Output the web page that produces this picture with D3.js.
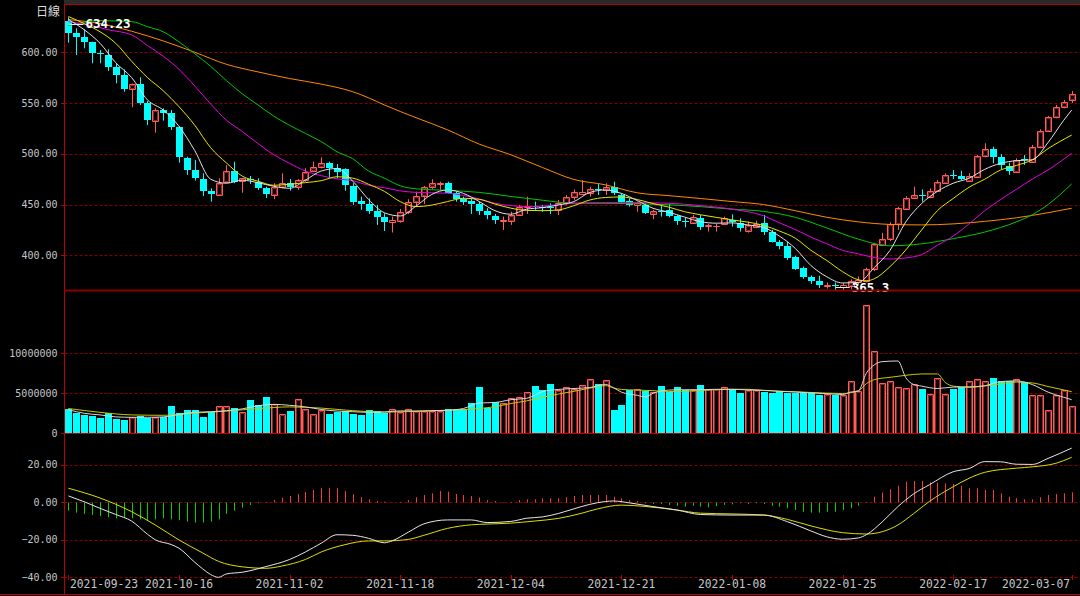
<!DOCTYPE html>
<html><head><meta charset="utf-8">
<script src="https://cdn.jsdelivr.net/npm/d3@7"></script>
<style>html,body{margin:0;padding:0;background:#000;}svg{display:block;}</style>
</head><body>
<svg id="c" width="1080" height="596"></svg>
<script>
// ---------------- DATA ----------------
const open = [630.9,618.5,614.6,609.6,599.4,597.1,585.0,577.5,563.4,568.6,
549.6,532.2,543.1,539.8,526.6,495.5,484.0,475.2,463.7,459.5,
472.5,483.0,472.9,475.5,472.5,466.0,459.5,467.6,471.0,467.6,
474.2,483.0,486.6,490.6,485.7,484.7,468.6,453.6,450.3,444.1,
437.5,432.6,434.2,443.0,452.3,458.5,467.0,470.0,471.0,461.1,
455.2,453.9,450.7,444.1,439.2,434.0,434.0,439.8,447.9,448.5,
447.2,447.6,444.8,451.2,457.2,460.4,461.1,465.0,464.4,467.6,
459.4,453.6,449.7,449.7,440.8,444.1,444.8,438.9,434.0,432.2,
436.5,429.0,429.0,431.0,434.9,432.2,424.5,427.6,431.6,423.5,
413.6,409.4,398.0,387.5,378.3,375.3,370.1,370.8,368.8,369.8,
373.4,374.7,386.2,410.1,415.7,430.5,445.9,456.7,459.3,457.2,
463.4,471.5,479.1,478.5,473.6,477.5,497.8,504.4,496.5,488.0,
482.4,494.5,492.2,507.0,522.7,535.8,545.7,552.9];
const high = [634.23,623.4,622.4,610.2,602.0,602.7,589.0,583.0,569.0,575.2,
551.9,544.7,544.7,543.1,527.3,497.1,493.9,480.8,466.0,475.9,
488.9,492.2,475.9,478.1,475.9,467.6,471.0,480.8,475.2,475.2,
485.7,492.2,496.5,492.2,489.9,485.7,471.0,457.8,456.2,449.7,
441.4,438.2,445.7,455.2,462.7,468.3,474.9,472.5,472.5,462.7,
457.8,456.2,452.9,446.5,440.8,438.2,443.0,449.6,457.8,452.9,
449.7,451.2,454.6,459.4,465.0,474.2,467.6,471.0,471.0,472.5,
461.1,456.2,452.9,451.3,444.8,449.7,451.3,439.8,437.5,439.8,
439.8,431.0,431.0,438.2,440.4,436.5,433.3,434.2,439.8,425.2,
415.2,413.6,399.6,389.1,380.3,380.0,373.4,373.4,372.7,376.4,
379.3,387.9,412.4,422.3,432.7,447.8,458.3,467.6,464.9,466.0,
474.2,480.7,484.0,483.3,480.8,498.8,510.3,507.0,499.8,491.3,
495.5,498.8,508.6,524.1,537.1,548.0,552.9,561.8];
const low = [609.2,597.1,603.7,589.0,589.0,581.4,569.3,561.0,545.7,548.0,
528.3,520.7,532.5,523.4,491.2,479.2,473.6,458.5,452.9,459.5,
471.0,471.0,461.7,470.3,464.4,456.4,455.3,466.0,463.7,464.4,
472.5,482.4,485.7,475.9,475.9,463.7,449.7,444.8,440.8,430.0,
424.0,422.5,432.2,440.8,447.9,450.7,465.4,464.4,461.1,452.9,
449.7,440.8,439.8,435.6,431.0,425.0,430.0,438.8,440.8,444.8,
443.0,440.8,439.8,449.7,454.6,460.4,457.8,459.4,459.4,459.4,
450.7,447.9,443.0,440.8,435.6,438.2,437.5,430.0,427.6,431.0,
424.9,423.5,423.5,430.0,428.3,423.5,422.5,426.7,420.1,412.7,
406.1,395.6,385.8,377.0,371.9,367.8,367.4,365.3,366.0,366.6,
371.1,373.4,384.6,409.1,414.0,424.9,445.2,456.0,452.9,456.2,
462.7,470.9,475.2,474.2,472.5,476.8,496.5,490.6,484.8,479.2,
482.4,489.0,491.2,505.4,521.7,534.8,544.7,550.0];
const close = [618.5,614.6,609.6,599.4,597.8,585.6,577.5,563.7,568.6,549.6,
533.2,543.1,539.8,526.6,496.5,484.0,475.8,463.7,460.1,471.0,
483.0,472.5,475.9,473.9,466.0,460.1,467.6,471.0,467.6,474.2,
482.4,486.6,490.6,485.7,482.0,469.3,452.9,450.7,444.1,438.2,
433.2,434.9,443.0,452.3,458.5,467.0,471.0,471.0,461.7,455.2,
452.9,450.3,444.1,439.8,434.9,434.9,439.8,447.9,448.5,447.6,
446.3,446.6,452.0,457.2,462.7,462.0,465.0,464.0,467.6,461.1,
452.9,449.7,451.3,441.5,444.1,443.5,438.9,434.0,433.2,437.5,
428.3,429.7,429.3,436.5,432.6,426.7,430.0,430.9,423.5,413.6,
409.4,397.3,386.5,378.3,375.0,371.1,370.8,370.1,371.1,374.7,
376.0,386.2,410.8,416.4,430.5,446.9,456.7,459.0,458.7,463.7,
472.5,479.1,478.8,474.9,478.2,497.8,504.4,497.1,489.0,483.3,
493.9,493.6,507.0,522.7,535.8,546.3,551.2,558.8];
const volume = [3040000,2580000,2290000,2160000,1910000,2580000,1790000,1660000,2000000,2160000,
1870000,2080000,2000000,3410000,2500000,2910000,2910000,2080000,2700000,3370000,
3370000,3120000,2700000,4160000,3540000,4540000,3620000,2410000,2790000,4250000,
3000000,2410000,2910000,2410000,2700000,2790000,2410000,2290000,2910000,2790000,
2500000,3000000,2700000,3000000,2830000,2830000,2830000,2830000,3000000,3000000,
3000000,3750000,5750000,3200000,3870000,3750000,4370000,4500000,5120000,5870000,
5370000,6120000,5420000,5830000,5500000,6000000,6750000,6120000,6620000,2920000,
3500000,5420000,5580000,5330000,5200000,5870000,5200000,5750000,5420000,5420000,
6000000,5500000,5580000,5750000,5540000,5040000,5420000,5420000,5200000,5080000,
5250000,5080000,5080000,5000000,5000000,4750000,4900000,4750000,4750000,6580000,
5250000,16100000,10250000,6330000,6580000,5830000,5700000,6170000,5500000,4960000,
6960000,4870000,5580000,5750000,6580000,6750000,6580000,6870000,6580000,6580000,
6750000,6460000,4750000,4750000,2870000,4750000,5420000,3370000];
const macdHist = [-4.4,-5.5,-6.2,-6.8,-7.3,-8.0,-8.5,-8.2,-8.5,-9.1,
-9.8,-9.1,-8.5,-9.1,-9.4,-10.3,-10.8,-10.8,-10.3,-9.1,
-6.2,-4.4,-2.8,-1.4,-0.5,0.2,1.2,2.5,3.4,4.4,
5.5,6.6,7.5,7.6,7.5,6.0,4.4,2.7,1.6,0.7,
0.4,-0.2,0.2,1.2,2.7,3.9,4.8,6.0,5.7,4.4,
3.9,3.4,2.5,1.2,0.7,0.1,0.2,1.2,1.6,1.6,
2.1,2.1,2.1,2.7,3.4,3.9,3.9,3.9,3.9,3.0,
2.1,1.2,0.7,-0.5,-0.9,-0.9,-1.4,-1.8,-2.3,-1.8,
-2.3,-2.7,-2.0,-1.4,-1.1,-0.5,-0.9,-0.5,-0.9,-1.8,
-2.3,-3.2,-4.1,-5.0,-5.5,-5.5,-5.0,-5.0,-4.1,-3.2,
-1.8,0.2,3.0,5.2,7.0,8.8,11.0,11.4,11.4,10.7,
10.5,10.1,9.8,8.9,7.5,7.5,6.6,6.6,4.8,3.0,
2.1,1.6,1.6,2.7,3.9,4.4,4.8,5.3];

// moving-average lines: [candle index, value]
const ma5 = [[0,632],[2,622],[4,608.7],[6,589.5],[8,575],[10,553],[12,543],[14,527],[16,503],[18,475],[20,471],[22,474],[24,471.5],[26,468],[28,466],[30,474],[32,483],[34,485.5],[36,473],[38,455],[40,442],[42,438.8],[44,448.5],[46,460],[48,464.4],[50,461],[52,453],[54,444],[56,440.5],[58,445.5],[60,447],[62,449.6],[64,453],[66,462],[68,464.4],[70,461],[72,454],[74,446.4],[76,442.5],[78,437.7],[80,433.2],[82,431.7],[84,432],[86,430],[88,427.5],[90,419],[92,407],[94,390],[96,379],[98,372.9],[100,373.5],[102,388],[104,405],[106,433],[108,451],[110,463],[112,471],[114,475.9],[116,484.7],[118,490.6],[120,493.2],[122,494],[124,511],[126,533],[127,543]];
const ma10 = [[0,635],[2,628],[4,620],[6,608.6],[8,591],[10,575],[12,562],[14,546.3],[16,528],[18,506],[20,491],[22,478],[24,473],[26,469],[28,470],[30,471.6],[32,473.5],[34,477.4],[36,476],[38,470],[40,463],[42,452.9],[44,448],[46,449.5],[48,453],[50,456.2],[52,455.2],[54,450.5],[56,446.5],[58,444.3],[60,444],[62,444.7],[64,449],[66,454.5],[68,457],[70,457.5],[72,455],[74,451],[76,447.5],[78,443],[80,440],[84,435],[88,429.5],[90,424],[92,417],[94,405],[96,395],[98,384],[100,376],[101,375],[102,377],[104,389],[106,405.4],[108,425],[110,444],[112,456],[114,467],[116,475],[118,484],[120,488.5],[122,494],[124,505],[127,518.4]];
const ma20 = [[0,630],[3,626],[5,622],[8,617],[10,606.5],[12,596],[14,583],[16,566.6],[18,549],[20,533],[22,522],[24,510],[26,499],[28,490.5],[30,483],[32,478.5],[34,475.3],[36,473.5],[38,469],[40,466.5],[42,463.5],[44,462],[48,461.2],[50,459],[52,455.5],[54,451.3],[56,449],[58,448],[60,448.5],[64,451.3],[68,451.9],[72,451.9],[76,451.3],[80,449],[84,445.5],[88,439],[90,432],[92,425.5],[94,418],[96,411.5],[98,405],[100,401.5],[102,398],[104,396.5],[106,397.5],[108,400.8],[110,410],[112,419],[114,431],[116,444],[118,455],[120,465],[122,475],[124,484],[127,500.5]];
const ma30 = [[0,626],[4,630.9],[8,630],[10,625],[12,620],[14,610],[16,598.4],[18,586],[20,572],[22,559],[24,548],[26,537],[28,528],[30,520],[32,512],[34,502],[36,495],[38,483],[40,476],[42,468.5],[44,465.5],[48,464],[52,462],[56,458],[60,454.3],[64,451.3],[68,451.3],[72,450.7],[76,449.8],[80,448],[84,445.5],[88,443.3],[92,437.5],[96,427],[100,416],[104,409.5],[106,410],[108,411.4],[112,416.5],[116,423],[120,433],[122,440],[124,450],[127,470.3]];
const ma60 = [[0,632],[4,628],[8,620.5],[12,611],[16,599.8],[20,588],[24,580.5],[28,574],[32,568.5],[36,561],[38,555],[40,548],[44,535.5],[48,523.5],[52,509.5],[56,499],[60,486.5],[64,474.7],[68,469.4],[72,461.6],[76,458.8],[80,456],[84,453],[88,450],[92,444],[96,437.5],[100,433],[104,430.5],[108,430],[112,431],[116,433.5],[120,437],[124,442],[127,446.4]];
const volMa5 = [[0,2950000],[2,2500000],[4,2300000],[6,2050000],[8,2000000],[10,2000000],[12,2050000],[14,2350000],[16,2620000],[18,2700000],[20,2820000],[22,3050000],[24,3450000],[26,3620000],[28,3500000],[30,3300000],[32,2980000],[34,2780000],[36,2700000],[38,2620000],[40,2660000],[42,2800000],[44,2780000],[46,2830000],[48,2880000],[50,3100000],[52,3780000],[54,3850000],[56,4200000],[58,4370000],[60,5200000],[62,5480000],[64,5600000],[66,5720000],[68,6100000],[69,5700000],[70,5150000],[72,4750000],[73,4550000],[74,5000000],[76,5400000],[78,5450000],[80,5450000],[82,5500000],[84,5500000],[86,5420000],[88,5380000],[90,5250000],[92,5150000],[94,5050000],[96,4950000],[98,4850000],[99,5150000],[100,5300000],[101,7500000],[102,8550000],[103,8950000],[105,9040000],[106,6950000],[107,6100000],[108,5900000],[110,5600000],[112,5780000],[114,5800000],[116,5950000],[118,6460000],[120,6550000],[122,6100000],[124,5150000],[126,4500000],[127,4200000]];
const volMa10 = [[0,3100000],[4,2620000],[8,2300000],[12,2250000],[16,2520000],[20,2780000],[24,3080000],[28,3300000],[32,3150000],[36,2830000],[40,2650000],[44,2750000],[48,2880000],[52,3100000],[54,3330000],[56,3720000],[58,4050000],[60,4500000],[62,4900000],[64,5250000],[66,5650000],[68,5960000],[69,5670000],[70,5480000],[72,5400000],[74,5330000],[76,5220000],[78,5250000],[80,5350000],[82,5450000],[84,5500000],[86,5500000],[88,5350000],[92,5200000],[96,5020000],[98,4980000],[100,5300000],[101,6200000],[102,6700000],[104,7000000],[106,7250000],[108,7420000],[110,7420000],[111,6350000],[112,5900000],[114,5750000],[117,6040000],[120,6400000],[122,6300000],[124,5850000],[127,5200000]];
const dif = [[0,3.4],[2,0.3],[4,-3.2],[6,-6.5],[8,-10],[10,-17],[11,-20],[13,-22.5],[14,-24.5],[16,-32],[17,-35.5],[18,-38.5],[19,-40],[20,-38.2],[22,-37.3],[25,-34.3],[28,-30.5],[30,-26.5],[32,-21.8],[34,-17.3],[36,-17.6],[38,-19.2],[40,-21.6],[41,-20.5],[43,-16],[45,-11.5],[48,-9.4],[51,-9.4],[53,-10.8],[56,-10.2],[58,-8.5],[60,-7.8],[62,-6],[65,-2.2],[67,-0.2],[69,0.7],[71,-0.3],[74,-2.3],[77,-4.1],[80,-6.5],[84,-6.8],[88,-6.8],[91,-10.3],[94,-15.3],[96,-18.4],[98,-19.7],[100,-19],[101,-17.3],[103,-10.5],[105,-2.3],[107,4.5],[109,9.4],[112,16.3],[114,18],[116,21.7],[118,21.6],[120,20.3],[122,20.2],[124,23.4],[127,28.9]];
const dea = [[0,7.5],[4,2.3],[8,-5],[11,-12.1],[14,-20.1],[17,-27],[19,-31.5],[22,-34.4],[25,-35.2],[27,-34],[30,-30.5],[32,-26.5],[35,-22.6],[38,-20.6],[40,-20.6],[43,-19.8],[45,-17.6],[48,-13.9],[51,-12],[53,-11.6],[56,-11.1],[59,-10],[62,-8.6],[65,-5.8],[67,-3.5],[70,-1.5],[73,-2.2],[77,-4.1],[80,-5.8],[84,-6.2],[88,-6.8],[91,-9.1],[94,-12.6],[98,-16.2],[101,-16.9],[103,-15.7],[105,-12.1],[107,-6],[109,0.5],[112,8.3],[114,12.8],[116,16],[120,18.2],[122,18.9],[125,20.8],[127,24]];

const priceTicks = [600, 550, 500, 450, 400];
const volTicks = [10000000, 5000000];
const volLabels = [10000000, 5000000, 0];
const macdTicks = [20, 0, -20, -40];
const dateTickIdx = [0, 14, 28, 42, 56, 70, 84, 98, 112, 127];
const dateTickLabels = ["2021-09-23","2021-10-16","2021-11-02","2021-11-18","2021-12-04","2021-12-21","2022-01-08","2022-01-25","2022-02-17","2022-03-07"];
const titleText = "日線";
const highMark = {idx: 0, value: 634.23, text: "634.23"};
const lowMark = {idx: 97, value: 365.3, text: "365.3"};

// ---------------- LAYOUT ----------------
const W = 1080, H = 596;
const PL = 64.5, PR = 1080;
const MAIN = {top: 4.3, bottom: 290.7};
const VOL = {top: 290.7, bottom: 433.3};
const MAC = {top: 433.3, bottom: 577.3};
const RED = "#ff5c5c", RED_IN = "#8e2626", CYAN = "#00ffff", GRID = "#820000", BORDER = "#b80000";
const N = open.length;

const svg = d3.select("#c");
svg.append("rect").attr("width", W).attr("height", H).attr("fill", "#000");
svg.append("rect").attr("x", 64).attr("y", 0).attr("width", W - 64).attr("height", 4).attr("fill", "#2a2a2a");

const x = d3.scaleLinear().domain([0, N - 1]).range([68.4, 68.4 + 7.9 * (N - 1)]);
const yP = d3.scaleLinear().domain([365.3, 647]).range([MAIN.bottom, MAIN.top]);
const yV = d3.scaleLinear().domain([0, 17825000]).range([VOL.bottom, VOL.top]);
const yM = d3.scaleLinear().domain([-40, 36.8]).range([MAC.bottom, MAC.top]);
const cx = i => Math.round(x(i)) + 0.5;

const defs = svg.append("defs");
[["clipMain", MAIN], ["clipVol", VOL], ["clipMac", {top: MAC.top, bottom: MAC.bottom + 1}]].forEach(([id, p]) => {
  defs.append("clipPath").attr("id", id).append("rect")
    .attr("x", PL).attr("y", p.top).attr("width", PR - PL).attr("height", p.bottom - p.top);
});

// gridlines
function hgrid(scale, ticks) {
  svg.append("g").selectAll("line").data(ticks).join("line")
    .attr("x1", PL).attr("x2", PR)
    .attr("y1", d => Math.round(scale(d)) + 0.5).attr("y2", d => Math.round(scale(d)) + 0.5)
    .attr("stroke", GRID).attr("stroke-width", 1).attr("stroke-dasharray", "3,2");
}
hgrid(yP, priceTicks); hgrid(yV, volTicks); hgrid(yM, macdTicks);

// y labels
function ylabels(scale, ticks, fmt) {
  const g = svg.append("g");
  g.selectAll("text").data(ticks).join("text")
    .attr("x", 57.5).attr("y", d => scale(d)).attr("dy", "0.36em")
    .attr("text-anchor", "end").attr("fill", "#c6c6c6")
    .attr("font-family", "DejaVu Sans Mono, monospace").attr("font-size", 10)
    .text(fmt);
  g.selectAll("line").data(ticks).join("line")
    .attr("x1", 61).attr("x2", PL).attr("y1", d => Math.round(scale(d)) + 0.5).attr("y2", d => Math.round(scale(d)) + 0.5)
    .attr("stroke", BORDER);
}
ylabels(yP, priceTicks, d3.format(".2f"));
ylabels(yV, volLabels, d => String(d));
ylabels(yM, macdTicks, d3.format(".2f"));

// title
svg.append("text").attr("x", 48).attr("y", 12).attr("dy", "0.36em").attr("text-anchor", "middle")
  .attr("fill", "#dcdcdc").attr("font-family", "Noto Sans CJK TC, Noto Sans CJK SC, sans-serif").attr("font-size", 12)
  .text(titleText);

const candles = d3.range(N).map(i => ({i, o: open[i], h: high[i], l: low[i], c: close[i], v: volume[i], m: macdHist[i], up: close[i] >= open[i]}));

// candles
const gC = svg.append("g").attr("clip-path", "url(#clipMain)");
gC.selectAll("line.w").data(candles).join("line").attr("class", "w")
  .attr("x1", d => cx(d.i)).attr("x2", d => cx(d.i))
  .attr("y1", d => yP(d.h)).attr("y2", d => yP(d.l))
  .attr("stroke", d => d.up ? RED : CYAN).attr("stroke-width", 1);
const upC = candles.filter(d => d.up);
gC.selectAll("path.up").data(upC).join("path").attr("class", "up")
  .attr("d", d => {
    const t = Math.round(yP(d.c)) + 0.5, b = Math.round(yP(d.o)) + 0.5, l = cx(d.i) - 3;
    return `M${l},${t}H${l + 6}V${b}H${l}Z`;
  })
  .attr("fill", "#000").attr("stroke", RED).attr("stroke-width", 1);
gC.selectAll("path.upi").data(upC.filter(d => Math.round(yP(d.o)) - Math.round(yP(d.c)) >= 3)).join("path").attr("class", "upi")
  .attr("d", d => {
    const t = Math.round(yP(d.c)) + 1.5, b = Math.round(yP(d.o)) - 0.5, l = cx(d.i) - 2;
    return `M${l},${t}H${l + 4}V${b}H${l}Z`;
  })
  .attr("fill", "none").attr("stroke", RED_IN).attr("stroke-width", 1);
gC.selectAll("rect.dn").data(candles.filter(d => !d.up)).join("rect").attr("class", "dn")
  .attr("x", d => cx(d.i) - 3.5).attr("width", 7)
  .attr("y", d => Math.round(yP(d.o)))
  .attr("height", d => Math.max(1, Math.round(yP(d.c)) - Math.round(yP(d.o))))
  .attr("fill", CYAN);

// MA lines
const lineP = d3.line().x(d => x(d[0])).y(d => yP(d[1])).curve(d3.curveMonotoneX);
[[ma60, "#ff8a00"], [ma30, "#00c800"], [ma20, "#e600e6"], [ma10, "#e6e600"], [ma5, "#e2e2e2"]].forEach(([pts, col]) => {
  gC.append("path").datum(pts).attr("d", lineP).attr("fill", "none").attr("stroke", col).attr("stroke-width", 1);
});

// high / low marks
function mark(m, dyText) {
  const yy = yP(m.value) + dyText;
  const x0 = x(m.idx);
  svg.append("line").attr("x1", x0 + 1).attr("x2", x0 + 15).attr("y1", Math.round(yy) + 0.5).attr("y2", Math.round(yy) + 0.5)
    .attr("stroke", "#e8e8e8").attr("stroke-width", 1);
  svg.append("text").attr("x", x0 + 17).attr("y", yy).attr("dy", "0.36em")
    .attr("fill", "#ffffff").attr("font-family", "DejaVu Sans Mono, monospace").attr("font-weight", "bold").attr("font-size", 12.5)
    .text(m.text);
}
mark(highMark, 6.5);
mark(lowMark, -3.5);

// volume
const gV = svg.append("g").attr("clip-path", "url(#clipVol)");
const vb = Math.round(VOL.bottom);
const upV = candles.filter(d => d.up);
gV.selectAll("path.vu").data(upV).join("path").attr("class", "vu")
  .attr("d", d => {
    const t = Math.round(yV(d.v)) + 0.5, l = cx(d.i) - 3;
    return `M${l},${vb}V${t}H${l + 6}V${vb}`;
  })
  .attr("fill", "#000").attr("stroke", RED).attr("stroke-width", 1);
gV.selectAll("path.vui").data(upV).join("path").attr("class", "vui")
  .attr("d", d => {
    const t = Math.round(yV(d.v)) + 1.5, l = cx(d.i) - 2;
    return `M${l},${vb}V${t}H${l + 4}V${vb}`;
  })
  .attr("fill", "none").attr("stroke", RED_IN).attr("stroke-width", 1);
gV.selectAll("rect.vd").data(candles.filter(d => !d.up)).join("rect").attr("class", "vd")
  .attr("x", d => cx(d.i) - 3.5).attr("width", 7)
  .attr("y", d => Math.round(yV(d.v))).attr("height", d => vb - Math.round(yV(d.v)))
  .attr("fill", CYAN);
const lineV = d3.line().x(d => x(d[0])).y(d => yV(d[1])).curve(d3.curveMonotoneX);
[[volMa10, "#c8c800"], [volMa5, "#d6d6d6"]].forEach(([pts, col]) => {
  gV.append("path").datum(pts).attr("d", lineV).attr("fill", "none").attr("stroke", col).attr("stroke-width", 1);
});

// MACD
const gM = svg.append("g").attr("clip-path", "url(#clipMac)");
const y0 = Math.round(yM(0)) + 0.5;
gM.selectAll("line.h").data(candles).join("line").attr("class", "h")
  .attr("x1", d => cx(d.i)).attr("x2", d => cx(d.i))
  .attr("y1", y0).attr("y2", d => yM(d.m))
  .attr("stroke", d => d.m >= 0 ? "#ff3434" : "#00d400").attr("stroke-width", 1);
const lineM = d3.line().x(d => x(d[0])).y(d => yM(d[1])).curve(d3.curveMonotoneX);
[[dea, "#dede00"], [dif, "#e6e6e6"]].forEach(([pts, col]) => {
  gM.append("path").datum(pts).attr("d", lineM).attr("fill", "none").attr("stroke", col).attr("stroke-width", 1);
});

// borders
const border = (x1, y1, x2, y2, w, c) => svg.append("line").attr("x1", x1).attr("y1", y1).attr("x2", x2).attr("y2", y2)
  .attr("stroke", c || BORDER).attr("stroke-width", w || 1);
border(PL, 4.5, PR, 4.5);
border(PL, 4, PL, 594);
border(PL, 290.5, PR, 290.5, 2, "#8c0000");
border(PL, 433.5, PR, 433.5, 1, "#c00000");
border(0, 594.5, PR, 594.5, 1, "#c00000");

// x axis ticks + labels
const gX = svg.append("g");
gX.selectAll("line").data(dateTickIdx).join("line")
  .attr("x1", d => cx(d)).attr("x2", d => cx(d)).attr("y1", 575).attr("y2", 580)
  .attr("stroke", BORDER);
gX.selectAll("text").data(dateTickIdx).join("text")
  .attr("y", 584).attr("dy", "0.36em")
  .attr("fill", "#c6c6c6").attr("font-family", "DejaVu Sans Mono, monospace").attr("font-size", 12)
  .attr("textLength", 68).attr("lengthAdjust", "spacingAndGlyphs")
  .text((d, k) => dateTickLabels[k])
  .attr("x", d => {
    let left = x(d) - 34;
    left = Math.max(70, Math.min(1070 - 68, left));
    return left;
  });
</script>
</body></html>
